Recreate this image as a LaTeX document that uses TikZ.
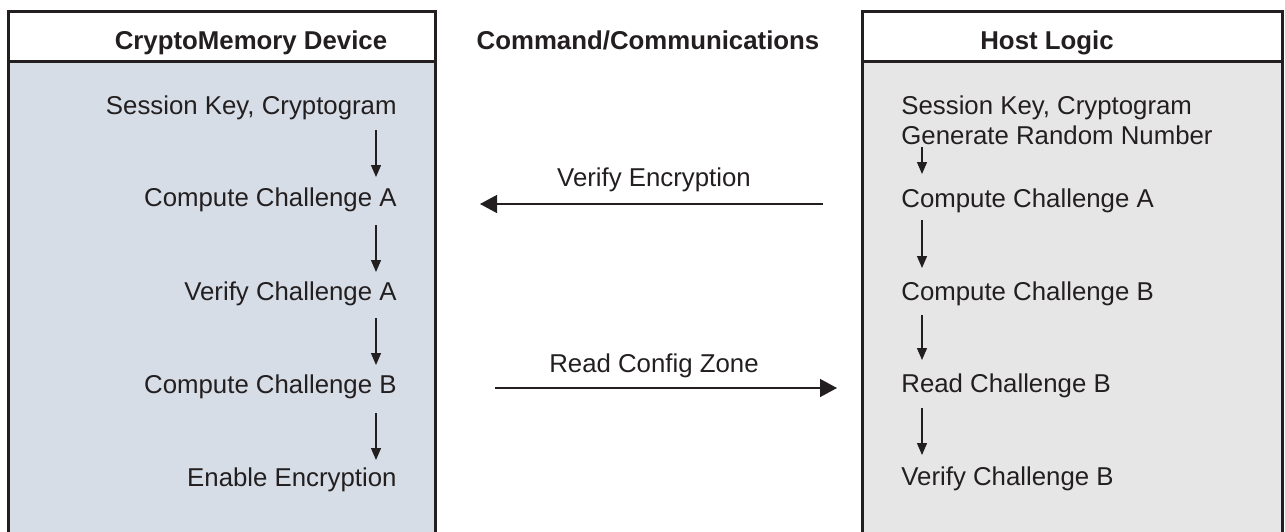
\documentclass[tikz,border=0pt]{standalone}
\usepackage{fontspec}
\setmainfont{Liberation Sans}
\usetikzlibrary{arrows.meta}
\definecolor{devfill}{RGB}{214,221,230}
\definecolor{hostfill}{RGB}{230,230,230}
\definecolor{ink}{RGB}{35,31,32}
\tikzset{
  panel/.style={draw=ink,line width=1.5pt},
  hdr/.style={font=\fontsize{12.9pt}{15pt}\selectfont\bfseries,text=ink,inner sep=0pt,anchor=base},
  lstep/.style={font=\fontsize{12.9pt}{15pt}\selectfont,text=ink,inner sep=0pt,anchor=base east},
  rstep/.style={font=\fontsize{12.9pt}{15pt}\selectfont,text=ink,inner sep=0pt,anchor=base west},
  msg/.style={font=\fontsize{12.9pt}{15pt}\selectfont,text=ink,inner sep=0pt,anchor=base},
  varrow/.style={draw=ink,line width=0.65pt,-{Triangle[length=6pt,width=5pt]}},
  harrow/.style={draw=ink,line width=0.7pt,-{Triangle[length=8.5pt,width=9pt]}}
}
\begin{document}
\begin{tikzpicture}[x=0.5pt,y=-0.5pt]
\useasboundingbox (0,0) rectangle (1285,531);
\clip (0,0) rectangle (1285,531);
% panels
\fill[devfill] (8.5,61) rectangle (435,545);
\fill[white] (8.5,11) rectangle (435,61);
\draw[panel] (8.5,545) -- (8.5,11) -- (435,11) -- (435,545);
\draw[panel] (8.5,61) -- (435,61);
\fill[hostfill] (862,61) rectangle (1282,545);
\fill[white] (862,11) rectangle (1282,61);
\draw[panel] (862,545) -- (862,11) -- (1282,11) -- (1282,545);
\draw[panel] (862,61) -- (1282,61);
% headers
\node[hdr] (hdev) at (251,49) {CryptoMemory Device};
\node[hdr] (hcom) at (648,49) {Command/Communications};
\node[hdr] (hhost) at (1047,49) {Host Logic};
% device steps
\node[lstep] (d1) at (397,114) {Session Key, Cryptogram};
\node[lstep] (d2) at (397,206) {Compute Challenge A};
\node[lstep] (d3) at (397,300) {Verify Challenge A};
\node[lstep] (d4) at (397,393) {Compute Challenge B};
\node[lstep] (d5) at (397,486) {Enable Encryption};
\coordinate (da1) at (376,130); \coordinate (db1) at (376,177);
\coordinate (da2) at (376,225); \coordinate (db2) at (376,272);
\coordinate (da3) at (376,318); \coordinate (db3) at (376,365);
\coordinate (da4) at (376,413); \coordinate (db4) at (376,460);
\draw[varrow] (da1) -- (db1);
\draw[varrow] (da2) -- (db2);
\draw[varrow] (da3) -- (db3);
\draw[varrow] (da4) -- (db4);
% host steps
\node[rstep] (h1) at (901,114) {Session Key, Cryptogram};
\node[rstep] (h1b) at (901,144) {Generate Random Number};
\node[rstep] (h2) at (901,207) {Compute Challenge A};
\node[rstep] (h3) at (901,300) {Compute Challenge B};
\node[rstep] (h4) at (901,392) {Read Challenge B};
\node[rstep] (h5) at (901,485) {Verify Challenge B};
\coordinate (ha1) at (922,147); \coordinate (hb1) at (922,174);
\coordinate (ha2) at (922,220); \coordinate (hb2) at (922,268);
\coordinate (ha3) at (922,315); \coordinate (hb3) at (922,360);
\coordinate (ha4) at (922,408); \coordinate (hb4) at (922,455);
\draw[varrow] (ha1) -- (hb1);
\draw[varrow] (ha2) -- (hb2);
\draw[varrow] (ha3) -- (hb3);
\draw[varrow] (ha4) -- (hb4);
% messages
\node[msg] (m1) at (654,186) {Verify Encryption};
\coordinate (m1s) at (823,204); \coordinate (m1e) at (480,204);
\draw[harrow] (m1s) -- (m1e);
\node[msg] (m2) at (654,372) {Read Config Zone};
\coordinate (m2s) at (495,388); \coordinate (m2e) at (837,388);
\draw[harrow] (m2s) -- (m2e);
\end{tikzpicture}
\end{document}
